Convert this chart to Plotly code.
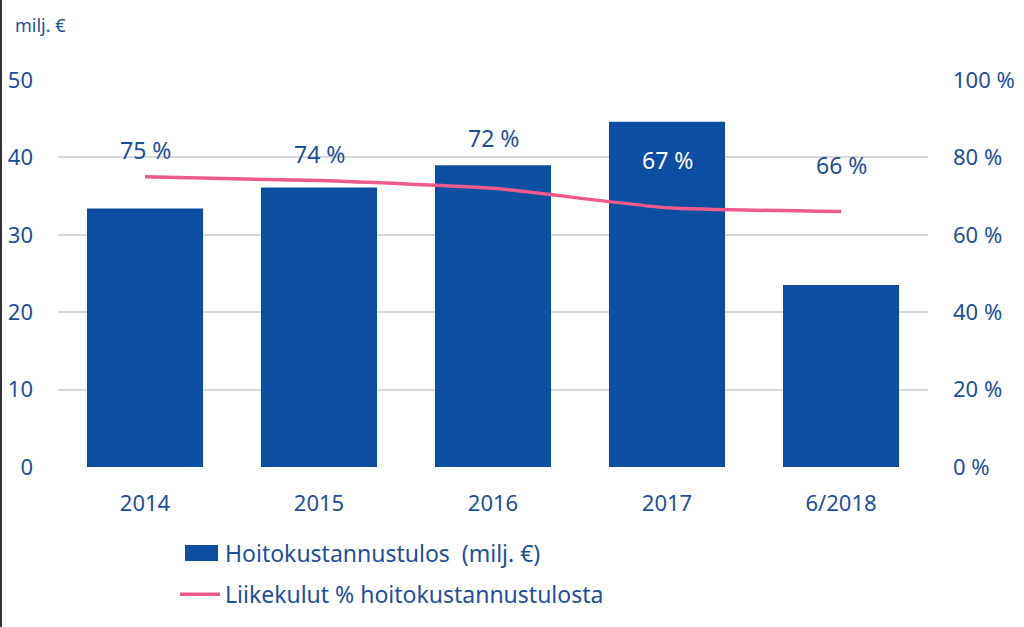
import plotly.graph_objects as go

categories = ["2014", "2015", "2016", "2017", "6/2018"]
bar_values = [33.4, 36.1, 39.0, 44.6, 23.5]
pct_values = [75, 74, 72, 67, 66]
left_ticks = [0, 10, 20, 30, 40, 50]
right_tickvals = [0, 20, 40, 60, 80, 100]
right_ticktext = ["0 %", "20 %", "40 %", "60 %", "80 %", "100 %"]
bar_name = "Hoitokustannustulos  (milj. €)"
line_name = "Liikekulut % hoitokustannustulosta"
unit_label = "milj. €"

# style
TXT = "#1F4E9B"
BAR = "#0B4EA2"
LINE = "#EF5A8C"
FONT = "Noto Sans"
FS = 22
label_shift = [27, 27, 50, 48, 47]
label_color = [TXT, TXT, TXT, "white", TXT]

W, H = 1024, 627
L, R, T, B = 58, 96, 80, 160
pw, ph = W - L - R, H - T - B


def px_x(p):
    return (p - L) / pw


def px_y(p):
    return (H - B - p) / ph


fig = go.Figure()
fig.add_trace(go.Bar(x=categories, y=bar_values, name=bar_name,
                     marker=dict(color=BAR, line=dict(width=0)),
                     legendgroup="a", yaxis="y"))
fig.add_trace(go.Scatter(x=categories, y=pct_values, name=line_name, mode="lines",
                         line=dict(color=LINE, width=3.5, shape="spline", smoothing=0.5),
                         legendgroup="b", yaxis="y2"))

for i, (v, s, col) in enumerate(zip(pct_values, label_shift, label_color)):
    fig.add_annotation(x=i, y=v, xref="x", yref="y2", text=f"{v} %", showarrow=False,
                       yshift=s, font=dict(family=FONT, size=FS + 1, color=col))

fig.add_annotation(x=px_x(13), y=px_y(25), xref="paper", yref="paper",
                   xanchor="left", yanchor="middle", text=unit_label, showarrow=False,
                   font=dict(family=FONT, size=18, color=TXT))

# left frame edge
fig.add_shape(type="line", xref="paper", yref="paper",
              x0=px_x(1), x1=px_x(1), y0=px_y(-5), y1=px_y(632),
              line=dict(color="#333333", width=2))
# wide legend swatch for the bar series (Excel-style)
fig.add_shape(type="rect", xref="paper", yref="paper",
              x0=px_x(185), x1=px_x(218), y0=px_y(545), y1=px_y(561),
              line=dict(width=0), fillcolor=BAR, layer="above")

fig.update_layout(
    width=W, height=H,
    margin=dict(l=L, r=R, t=T, b=B, autoexpand=False),
    paper_bgcolor="white", plot_bgcolor="white",
    font=dict(family=FONT, size=FS, color=TXT),
    bargap=0.333,
    xaxis=dict(type="category", range=[-0.5, len(categories) - 0.5], showgrid=False,
               showline=False, ticks="",
               tickfont=dict(size=FS, color=TXT), ticklabelstandoff=21),
    yaxis=dict(range=[0, 50], tickvals=left_ticks, showgrid=True, gridcolor="#D9D9D9",
               gridwidth=1.5, zeroline=False, showline=False, ticks="",
               tickfont=dict(size=FS, color=TXT), ticklabelstandoff=24),
    yaxis2=dict(range=[0, 100], tickvals=right_tickvals, ticktext=right_ticktext,
                overlaying="y", side="right", showgrid=False, zeroline=False,
                showline=False, ticks="", tickfont=dict(size=FS, color=TXT),
                ticklabelstandoff=24),
    legend=dict(orientation="v", x=px_x(175), y=px_y(532),
                xanchor="left", yanchor="top", tracegroupgap=8,
                font=dict(family=FONT, size=FS + 1, color=TXT), bgcolor="rgba(0,0,0,0)",
                itemwidth=40),
    showlegend=True,
)

fig.write_html("out.html", config={"displayModeBar": False},
               post_script="document.body.style.margin='0';document.body.style.overflow='hidden';")
